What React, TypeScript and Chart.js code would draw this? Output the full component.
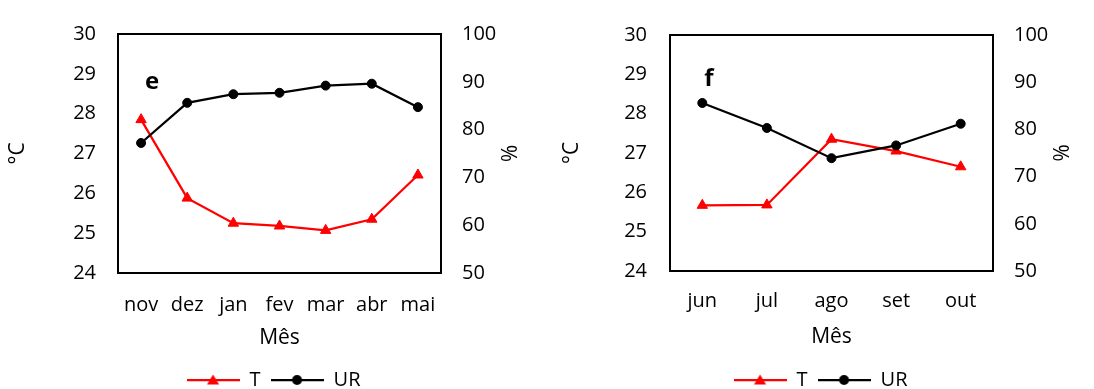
import React, { useEffect, useRef } from "react";
import { Chart, registerables } from "chart.js";

Chart.register(...registerables);

// ---- data ----
const monthsE = ["nov", "dez", "jan", "fev", "mar", "abr", "mai"];
const tempE = [27.85, 25.88, 25.25, 25.18, 25.07, 25.35, 26.46];
const urE = [77.2, 85.6, 87.4, 87.7, 89.2, 89.6, 84.7];

const monthsF = ["jun", "jul", "ago", "set", "out"];
const tempF = [25.67, 25.68, 27.35, 27.05, 26.65];
const urF = [85.6, 80.3, 73.9, 76.6, 81.2];

const tempAxis = { min: 24, max: 30, step: 1 };
const urAxis = { min: 50, max: 100, step: 10 };

const seriesNames = ["T", "UR"];
const xTitle = "Mês";
const yLeftTitle = "°C";
const yRightTitle = "%";

const FONT = "'Open Sans', sans-serif";
const FS = 20;
const FS_TITLE = 21;
const CW = 547;
const CH = 410;
const PAD_BOTTOM = 10;
const LEGEND_PAD = 10;

function legendImage(color: string, kind: "triangle" | "circle") {
  const c = document.createElement("canvas");
  c.width = 53;
  c.height = 14;
  const ctx = c.getContext("2d")!;
  ctx.strokeStyle = color;
  ctx.fillStyle = color;
  ctx.lineWidth = 2.25;
  ctx.beginPath();
  ctx.moveTo(0, 7);
  ctx.lineTo(53, 7);
  ctx.stroke();
  ctx.beginPath();
  if (kind === "triangle") {
    ctx.moveTo(26.5, 1.5);
    ctx.lineTo(32.5, 11.5);
    ctx.lineTo(20.5, 11.5);
    ctx.closePath();
  } else {
    ctx.arc(26.5, 7, 5, 0, Math.PI * 2);
  }
  ctx.fill();
  return c;
}

type PanelProps = {
  labels: string[];
  temp: number[];
  ur: number[];
  tag: string;
  left: number;
  right: number;
  top: number;
  bottom: number;
  xTickY: number;
  xTitleY: number;
  yTitleLeftX: number;
  yTitleRightX: number;
  tickGapL: number;
  tickGapR: number;
  tagDX: number;
  tagDY: number;
  offsetX: number;
};

function Panel(p: PanelProps) {
  const ref = useRef<HTMLCanvasElement>(null);
  useEffect(() => {
    const lh = FS * 1.2;
    const lhT = FS_TITLE * 1.2;
    const legendTop = CH - PAD_BOTTOM - (FS + LEGEND_PAD + 10);
    const xH = legendTop - p.bottom;

    const boxPlugin = {
      id: "box",
      beforeDatasetsDraw(chart: any) {
        const { ctx, chartArea } = chart;
        ctx.save();
        ctx.strokeStyle = "#000";
        ctx.lineWidth = 2;
        ctx.strokeRect(chartArea.left, chartArea.top, chartArea.right - chartArea.left, chartArea.bottom - chartArea.top);
        ctx.restore();
      },
      afterDraw(chart: any) {
        const { ctx, chartArea } = chart;
        ctx.save();
        ctx.fillStyle = "#000";
        ctx.font = `bold 24px ${FONT}`;
        ctx.textAlign = "center";
        ctx.textBaseline = "alphabetic";
        ctx.fillText(p.tag, chartArea.left + p.tagDX, chartArea.top + p.tagDY);
        ctx.restore();
      },
    };

    const imgs = [legendImage("#FF0000", "triangle"), legendImage("#000000", "circle")];

    const chart = new Chart(ref.current!, {
      type: "line",
      data: {
        labels: p.labels,
        datasets: [
          {
            label: seriesNames[0],
            data: p.temp,
            yAxisID: "y",
            borderColor: "#FF0000",
            backgroundColor: "#FF0000",
            borderWidth: 2.25,
            pointStyle: "triangle",
            pointRadius: 6,
            pointBorderWidth: 1,
            pointBackgroundColor: "#FF0000",
            pointBorderColor: "#FF0000",
            tension: 0,
            order: 1,
          },
          {
            label: seriesNames[1],
            data: p.ur,
            yAxisID: "y1",
            borderColor: "#000000",
            backgroundColor: "#000000",
            borderWidth: 2.25,
            pointStyle: "circle",
            pointRadius: 4.5,
            pointBorderWidth: 1,
            pointBackgroundColor: "#000000",
            pointBorderColor: "#000000",
            tension: 0,
            order: 0,
          },
        ],
      },
      options: {
        responsive: false,
        animation: false,
        devicePixelRatio: 1,
        layout: { padding: { top: p.top, left: 0, right: 0, bottom: PAD_BOTTOM } },
        font: { family: FONT, size: FS },
        color: "#000",
        plugins: {
          tooltip: { enabled: false },
          legend: {
            position: "bottom",
            labels: {
              usePointStyle: true,
              pointStyleWidth: 53,
              padding: LEGEND_PAD,
              color: "#000",
              font: { family: FONT, size: FS },
              sort: (a: any, b: any) => a.datasetIndex - b.datasetIndex,
              generateLabels: (chart: any) =>
                Chart.defaults.plugins.legend.labels.generateLabels(chart).map((it: any) => ({
                  ...it,
                  pointStyle: imgs[it.datasetIndex],
                })),
            },
          },
        },
        scales: {
          x: {
            offset: true,
            grid: { display: false, drawTicks: false },
            border: { display: false },
            ticks: {
              color: "#000",
              font: { family: FONT, size: FS },
              padding: p.xTickY - p.bottom - lh / 2,
              maxRotation: 0,
              autoSkip: false,
            },
            title: {
              display: true,
              text: xTitle,
              color: "#000",
              font: { family: FONT, size: FS_TITLE },
              padding: { top: 0, bottom: legendTop - lhT / 2 - p.xTitleY },
            },
            afterFit: (s: any) => {
              s.height = xH;
            },
          },
          y: {
            position: "left",
            min: tempAxis.min,
            max: tempAxis.max,
            grid: { display: false, drawTicks: false },
            border: { display: false },
            ticks: {
              stepSize: tempAxis.step,
              color: "#000",
              font: { family: FONT, size: FS },
              padding: p.tickGapL,
            },
            title: {
              display: true,
              text: yLeftTitle,
              color: "#000",
              font: { family: FONT, size: FS_TITLE },
              padding: { top: p.yTitleLeftX - lhT / 2, bottom: 0 },
            },
            afterFit: (s: any) => {
              s.width = p.left;
            },
          },
          y1: {
            position: "right",
            min: urAxis.min,
            max: urAxis.max,
            grid: { display: false, drawTicks: false },
            border: { display: false },
            ticks: {
              stepSize: urAxis.step,
              color: "#000",
              font: { family: FONT, size: FS },
              padding: p.tickGapR,
            },
            title: {
              display: true,
              text: yRightTitle,
              color: "#000",
              font: { family: FONT, size: FS_TITLE },
              padding: { top: CW - p.yTitleRightX - lhT / 2, bottom: 0 },
            },
            afterFit: (s: any) => {
              s.width = CW - p.right;
            },
          },
        },
      },
      plugins: [boxPlugin],
    } as any);
    return () => chart.destroy();
  }, []);
  return (
    <div
      style={{
        position: "absolute",
        left: p.offsetX,
        top: 0,
        width: CW,
        height: 389,
        overflow: "hidden",
      }}
    >
      <canvas ref={ref} width={CW} height={CH} style={{ display: "block" }} />
    </div>
  );
}

export default function App() {
  return (
    <div style={{ position: "absolute", left: 0, top: 0, width: 1094, height: 389, background: "#fff", overflow: "hidden" }}>
      <Panel
        labels={monthsE}
        temp={tempE}
        ur={urE}
        tag="e"
        left={118}
        right={441}
        top={24}
        bottom={273}
        xTickY={305}
        xTitleY={338}
        yTitleLeftX={18}
        yTitleRightX={507}
        tickGapL={22}
        tickGapR={21}
        tagDX={34}
        tagDY={55}
        offsetX={0}
      />
      <Panel
        labels={monthsF}
        temp={tempF}
        ur={urF}
        tag="f"
        left={123}
        right={446}
        top={26}
        bottom={271}
        xTickY={301.7}
        xTitleY={336.7}
        yTitleLeftX={25}
        yTitleRightX={511.7}
        tickGapL={23}
        tickGapR={21}
        tagDX={39}
        tagDY={51}
        offsetX={547}
      />
    </div>
  );
}
